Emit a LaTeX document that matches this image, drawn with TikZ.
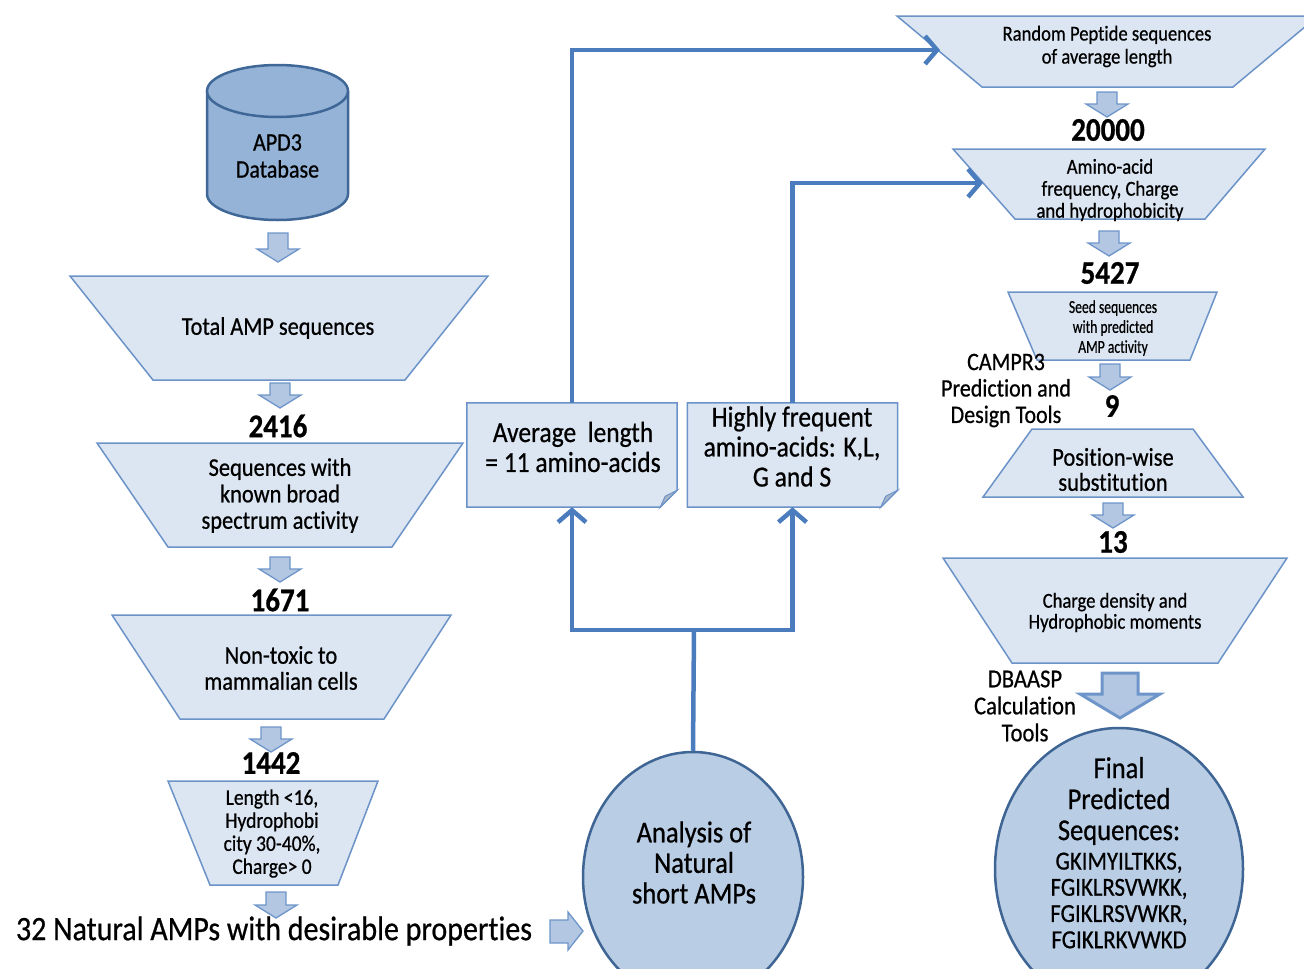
\documentclass[tikz,border=0pt]{standalone}
\usepackage{fontspec}
\setmainfont{Carlito}[Ligatures={NoCommon,NoContextual}, Contextuals=NoAlternate]
\newfontfamily\medfont{Carlito}[FakeBold=0.7, Ligatures={NoCommon,NoContextual}, Contextuals=NoAlternate]
\newfontfamily\condfont{Carlito}[FakeStretch=0.85, FakeBold=0.5, Ligatures={NoCommon,NoContextual}, Contextuals=NoAlternate]
\usetikzlibrary{arrows.meta,shapes.geometric}
\definecolor{trapfill}{HTML}{DCE6F2}
\definecolor{trapdraw}{HTML}{6B93C8}
\definecolor{cylfill}{HTML}{95B3D7}
\definecolor{cyldraw}{HTML}{3F6797}
\definecolor{circfill}{HTML}{B9CDE5}
\definecolor{circdraw}{HTML}{3E6594}
\definecolor{arrfill}{HTML}{B3C7E3}
\definecolor{arrdraw}{HTML}{6E95C9}
\definecolor{conncol}{HTML}{4B7DBE}
\definecolor{foldcol}{HTML}{A5B4C8}
\tikzset{
  trapbox/.style={fill=trapfill, draw=trapdraw, line width=1.5pt, line join=miter},
  blk/.style={fill=arrfill, draw=arrdraw, line width=1.3pt, line join=miter},
  connline/.style={draw=conncol, line width=4.5pt},
  conn/.style={connline, line join=miter, -{Straight Barb[length=12pt,width=28pt]}},
  txt/.style={align=center, inner sep=0pt, transform shape, yscale=1.14},
  num/.style={txt, font=\medfont\fontsize{29}{30}\selectfont\bfseries},
  notebox/.style={minimum width=210pt, minimum height=104pt, inner sep=0pt},
  bigcirc/.style={ellipse, fill=circfill, draw=circdraw, line width=2.5pt, inner sep=0pt},
}
\newcommand\downblk[3]{\draw[blk] ({#1-10},#2) -- ({#1+10},#2) -- ({#1+10},{#3-13}) -- ({#1+21},{#3-13}) -- (#1,#3) -- ({#1-21},{#3-13}) -- ({#1-10},{#3-13}) -- cycle;}
\newcommand\tf[2]{\medfont\fontsize{#1}{#2}\selectfont}
\begin{document}
\begin{tikzpicture}[x=1pt,y=-1pt]
\useasboundingbox (0,0) rectangle (1304,969);
\clip (0,0) rectangle (1304,969);
% cylinder
\fill[cylfill] (207,91) -- (207,194) arc[start angle=180,end angle=360,x radius=70.5pt,y radius=26pt] -- (348,91) -- cycle;
\draw[cyldraw, line width=2.5pt] (207,91) -- (207,194) arc[start angle=180,end angle=360,x radius=70.5pt,y radius=26pt] -- (348,91);
\draw[cyldraw, fill=cylfill, line width=2.5pt] (277.5,91) ellipse[x radius=70.5pt, y radius=26pt];
\node[txt, font=\tf{22}{23.7}] (db) at (277.5,156) {APD3\\Database};
% left trapezoids
\draw[trapbox] (70,276) -- (488,276) -- (405,380) -- (153,380) -- cycle;
\draw[trapbox] (97,443) -- (463,443) -- (392,547) -- (168,547) -- cycle;
\draw[trapbox] (112,615) -- (451,615) -- (384,719) -- (180,719) -- cycle;
\draw[trapbox] (168,781) -- (378,781) -- (338,885) -- (210,885) -- cycle;
% right trapezoids
\draw[trapbox] (897,16) -- (1318,16) -- (1233,87) -- (982,87) -- cycle;
\draw[trapbox] (953,149) -- (1265,149) -- (1205,219) -- (1015,219) -- cycle;
\draw[trapbox] (1008,292) -- (1217,292) -- (1190,360) -- (1037,360) -- cycle;
\draw[trapbox] (1032,429) -- (1193,429) -- (1243,497) -- (983,497) -- cycle;
\draw[trapbox] (943,558) -- (1287,558) -- (1218,663) -- (1012,663) -- cycle;
% block arrows
\downblk{278}{233}{262}
\downblk{280}{383}{408}
\downblk{280}{557}{582}
\downblk{271}{727}{752}
\downblk{276}{892}{918}
\downblk{1107}{92}{117}
\downblk{1109}{231}{256}
\downblk{1110}{364}{390}
\downblk{1113}{503}{528}
\draw[blk, line width=3pt] (1102,673) -- (1138,673) -- (1138,694) -- (1160,694) -- (1120,718) -- (1080,694) -- (1102,694) -- cycle;
\draw[blk] (550,920) -- (568,920) -- (568,912) -- (583,931) -- (568,950) -- (568,943) -- (550,943) -- cycle;
% notes
\node[notebox] (avg) at (572,455) {};
\node[notebox] (hfa) at (792.5,455) {};
\foreach \n in {avg,hfa}{
  \draw[fill=trapfill, draw=trapdraw, line width=1.5pt] (\n.north west) -- (\n.north east) -- ([yshift=17pt]\n.south east) -- ([xshift=-17pt]\n.south east) -- (\n.south west) -- cycle;
  \draw[fill=foldcol, draw=trapdraw, line width=1pt] ([yshift=17pt]\n.south east) -- ([xshift=-17pt]\n.south east) -- ([xshift=-12pt,yshift=11pt]\n.south east) -- cycle;
}
% circles
\node[bigcirc, minimum width=220pt, minimum height=250pt] (ana) at (693,877) {};
\node[bigcirc, minimum width=248pt, minimum height=282pt] (fin) at (1119,869) {};
% connectors
\coordinate (j) at (694,630);
\coordinate (rpin) at (940,50);
\coordinate (aain) at (983,183);
\draw[connline] (ana.north) -- (j);
\draw[conn] (j) -| (avg.south);
\draw[conn] (j) -| (hfa.south);
\draw[conn] (avg.north) |- (rpin);
\draw[conn] (hfa.north) |- (aain);
% texts
\node[txt, font=\tf{22.3}{23}] (tot) at (278,328) {Total AMP sequences};
\node[num] (n2416) at (278,426) {2416};
\node[txt, font=\tf{22.4}{23.2}] (seq) at (280,495.5) {Sequences with\\known broad\\spectrum activity};
\node[num] (n1671) at (280,600) {1671};
\node[txt, font=\tf{22.5}{22.8}] (ntx) at (281,668) {Non-toxic to\\mammalian cells};
\node[num] (n1442) at (271,763) {1442};
\node[txt, font=\tf{19.5}{20.2}] (len) at (272,833.5) {Length <16,\\Hydrophobi\\city 30-40\%,\\Charge> 0};
\node[txt, font=\tf{30}{31}] (nat) at (274,931) {32 Natural AMPs with desirable properties};
\node[txt, font=\tf{25.5}{26.3}] (avgt) at (573,447) {Average~~length\\= 11 amino-acids};
\node[txt, font=\tf{25.5}{26.3}] (hfat) at (792,446.5) {Highly frequent\\amino-acids: K,L,\\G and S};
\node[txt, font=\tf{26.5}{26.8}] (anat) at (694,862.5) {Analysis of\\Natural\\short AMPs};
\node[txt, font=\tf{18.6}{20.2}] (rpt) at (1107,46.5) {Random Peptide sequences\\of average length};
\node[num] (n20000) at (1108,130) {20000};
\node[txt, font=\tf{18.7}{19.3}] (aat) at (1110,190) {Amino-acid\\frequency, Charge\\and hydrophobicity};
\node[num] (n5427) at (1110,273) {5427};
\node[txt, font=\condfont\fontsize{16}{17.5}\selectfont] (seed) at (1113,328) {Seed sequences\\with predicted\\AMP activity};
\node[txt, font=\tf{22}{23.2}] (camp) at (1006,390.5) {CAMPR3\\Prediction and\\Design Tools};
\node[num] (n9) at (1112,406) {9};
\node[txt, font=\tf{22.5}{22}] (pos) at (1113,469.5) {Position-wise\\substitution};
\node[num] (n13) at (1113,542) {13};
\node[txt, font=\tf{18.6}{18.4}] (chg) at (1115,612.5) {Charge density and\\Hydrophobic moments};
\node[txt, font=\tf{22.6}{23.7}] (dba) at (1025,706) {DBAASP\\Calculation\\Tools};
\node[txt, font=\tf{26.5}{27.2}] (fint) at (1119,801) {Final\\Predicted\\Sequences:};
\node[txt, font=\tf{22.8}{23}] (finseq) at (1119,900.5) {GKIMYILTKKS,\\FGIKLRSVWKK,\\FGIKLRSVWKR,\\FGIKLRKVWKD};
\end{tikzpicture}
\end{document}
